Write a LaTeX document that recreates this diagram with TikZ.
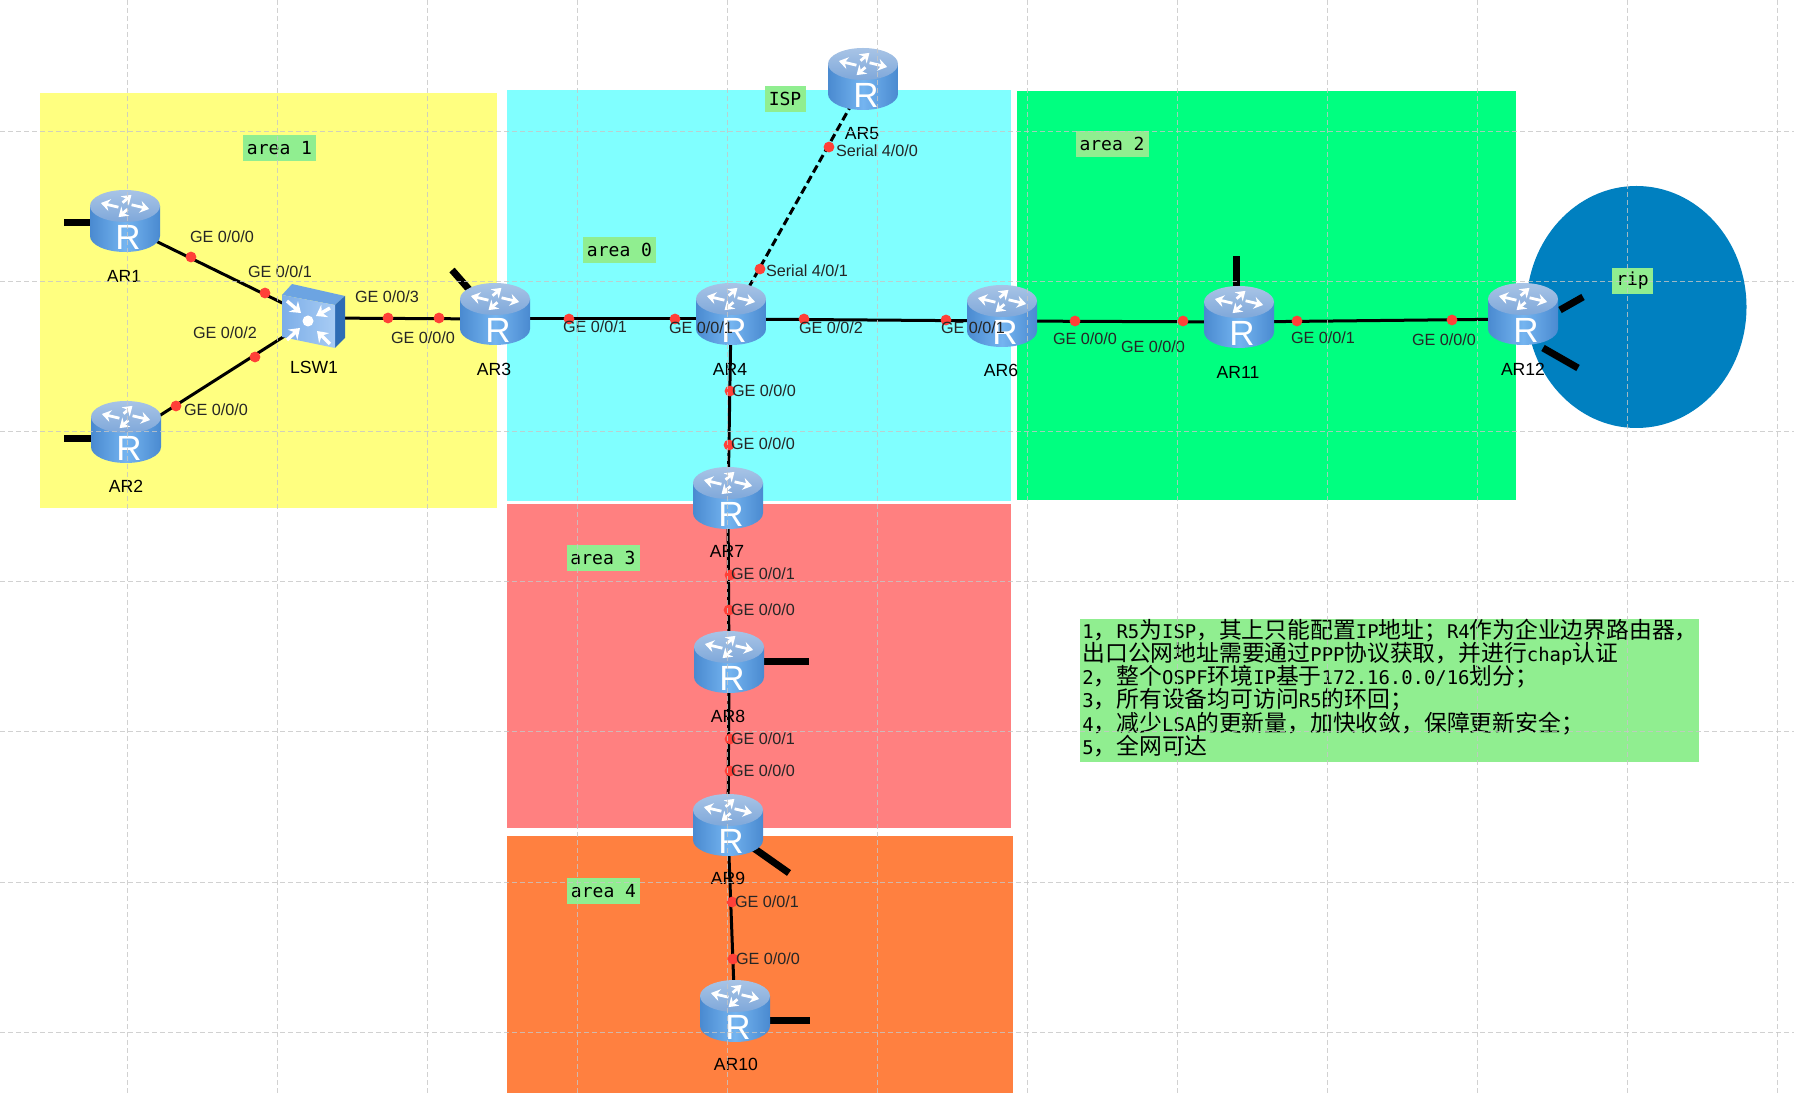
\documentclass[tikz,border=0pt]{standalone}
\usepackage{fontspec}
\setmainfont{Liberation Sans}
\newfontfamily\cjkfont{Noto Sans CJK SC}
\newfontfamily\latfont{DejaVu Sans Mono}
\usetikzlibrary{positioning, calc, arrows.meta, shapes.geometric}
\definecolor{areayellow}{HTML}{FFFF80}
\definecolor{areacyan}{HTML}{80FFFF}
\definecolor{areagreen}{HTML}{00FF80}
\definecolor{areared}{HTML}{FF8080}
\definecolor{areaorange}{HTML}{FF8040}
\definecolor{ripblue}{HTML}{0080C0}
\definecolor{tagfill}{HTML}{90EE90}
\definecolor{portred}{HTML}{FF4038}
\definecolor{bodydark}{HTML}{4A8AD0}
\definecolor{bodylight}{HTML}{74B4F0}
\definecolor{topdark}{HTML}{7FA8DA}
\definecolor{toplight}{HTML}{A8C4E6}
\definecolor{swfront}{HTML}{A8CCF4}
\definecolor{swedge}{HTML}{7CAEE8}
\definecolor{swtop}{HTML}{6CA4E2}
\definecolor{swside}{HTML}{2E6CB4}
\newcommand{\lat}[1]{{\latfont\fontsize{9.45}{11.6}\selectfont #1}}
\setlength{\lineskiplimit}{-20pt}
\begin{document}
\begin{tikzpicture}[x=0.5pt, y=-0.5pt,
    devspot/.style={inner sep=0pt, minimum width=35pt, minimum height=32pt},
    devlabel/.style={inner sep=0pt, font=\fontsize{8.8}{10}\selectfont},
    portlabel/.style={inner sep=0pt, font=\fontsize{8.1}{10}\selectfont, text=black!85},
    portdot/.style={circle, fill=portred, inner sep=0pt, minimum size=5.4pt},
    areatag/.style={fill=tagfill, inner sep=0pt, minimum width=36.5pt, minimum height=13pt, font=\latfont\fontsize{9}{10}\selectfont},
    shorttag/.style={areatag, minimum width=20.5pt},
    notebox/.style={fill=tagfill, anchor=north west, inner sep=0pt, minimum width=309.5pt, minimum height=71.5pt},
    notetext/.style={anchor=west, inner sep=0pt, align=left, font=\cjkfont\fontsize{11.4}{11.6}\selectfont},
    wire/.style={line width=1.5pt, black},
    serialwire/.style={line width=1.5pt, black, dash pattern=on 4pt off 2pt},
    stub/.style={line width=3.5pt, black},
    gridline/.style={gray!45, line width=0.5pt, dash pattern=on 2.5pt off 1.5pt, opacity=0.8},
    routerpic/.pic={
        \path[left color=bodydark, right color=bodydark, middle color=bodylight] (-35,-15) -- (-35,15) arc[start angle=180, end angle=0, x radius=35, y radius=16] -- (35,-15) -- cycle;
        \path[top color=toplight, bottom color=topdark] (0,-15) ellipse[x radius=35, y radius=16];
        \foreach \ang in {15,105,195,285} {
            \draw[white, line width=1.4pt, -{Stealth[length=4.5pt, width=6pt]}] ({7*cos(\ang-35)},{-15+3.5*sin(\ang-35)}) -- ({25*cos(\ang)},{-15+11.5*sin(\ang)});
        }
        \node[white, inner sep=0pt, font=\fontsize{17.5}{17.5}\selectfont] at (3,16) {R};
    },
    switchpic/.pic={
        \path[fill=swtop] (-31,-21) -- (-21,-32) -- (32,-20) -- (22,-11) -- cycle;
        \path[fill=swside] (22,-11) -- (32,-20) -- (32,22) -- (22,32) -- cycle;
        \path[left color=swedge, right color=swfront] (-31,-21) -- (22,-11) -- (22,32) -- (-31,21) -- cycle;
        \fill[white] (-5,5) circle[radius=5.5];
        \foreach \ax/\ay/\bx/\by in {-26/-15/-12/-3, 17/-8/3/0, -26/24/-13/12, 17/28/4/15} {
            \draw[white, line width=1.7pt, -{Stealth[length=5pt, width=7pt]}] (\ax,\ay) -- (\bx,\by);
        }
    }]
    \useasboundingbox (0,0) rectangle (1794,1095);
    \fill[white] (0,0) rectangle (1794,1095);

    % Draw area backgrounds
    \fill[areayellow] (40,93) rectangle (497,508);
    \fill[areacyan] (507,90) rectangle (1011,501);
    \fill[areagreen] (1017,91) rectangle (1516,500);
    \fill[areared] (507,504) rectangle (1011,828);
    \fill[areaorange] (507,836) rectangle (1013,1093);
    \fill[ripblue] (1636.5,307) ellipse[x radius=110, y radius=121];

    % Place devices, node centres sit at wire height
    \foreach \dev/\px/\py in {ar1/125/226, ar2/126/437, ar3/495/319, ar4/731/319, ar5/863/84, ar6/1002/321, ar7/728/503, ar8/729/667, ar9/728/830, ar10/735/1016, ar11/1239/322, ar12/1523/319} {
        \node[devspot] (\dev) at (\px,\py) {};
    }
    \node[devspot] (lsw1) at (313,318) {};

    % Free ends of the short stubs
    \coordinate (endar1) at (64,223);
    \coordinate (endar2) at (64,439);
    \coordinate (endar3) at (452,270);
    \coordinate (endar8) at (809,662);
    \coordinate (endar9) at (789,873);
    \coordinate (endar10) at (810,1020);
    \coordinate (endar11) at (1236,256);
    \coordinate (endupper) at (1583,297);
    \coordinate (endlower) at (1578,368);

    % Draw connectors
    \foreach \from/\to in {ar1/lsw1, ar2/lsw1, lsw1/ar3, ar3/ar4, ar4/ar6, ar6/ar11, ar11/ar12, ar4/ar7, ar7/ar8, ar8/ar9, ar9/ar10} {
        \draw[wire] (\from.center) -- (\to.center);
    }
    \draw[serialwire] (ar4.center) -- (ar5.center);

    % Draw stubs
    \foreach \dev/\stubend in {ar1/endar1, ar2/endar2, ar8/endar8, ar10/endar10} {
        \draw[stub] (\stubend -| \dev.center) -- (\stubend);
    }
    \draw[stub] (ar3.center) -- (endar3);
    \draw[stub] (ar9.center) -- (endar9);
    \draw[stub] (endar11 |- ar11.center) -- (endar11);
    \draw[stub] ($(ar12.center)+(37,-9)$) -- (endupper);
    \draw[stub] ($(ar12.center)+(20,29)$) -- (endlower);

    % Draw device icons over the wires
    \foreach \dev in {ar1,ar2,ar3,ar4,ar5,ar6,ar7,ar8,ar9,ar10,ar11,ar12} {
        \pic at ($(\dev.center)+(0,-5)$) {routerpic};
    }
    \pic at ($(lsw1.center)+(0,-2)$) {switchpic};

    % Add device labels
    \foreach \dev/\txt/\px/\py in {ar1/AR1/124/276, ar2/AR2/126/486, lsw1/LSW1/314/367, ar3/AR3/494/369, ar4/AR4/730/369, ar5/AR5/862/134, ar6/AR6/1001/370, ar7/AR7/727/551, ar8/AR8/728/716, ar9/AR9/728/878, ar10/AR10/736/1064, ar11/AR11/1238/372, ar12/AR12/1523/369} {
        \node[devlabel] (lab\dev) at (\px,\py) {\txt};
    }

    % Add port dots
    \foreach \px/\py [count=\i] in {191/257, 265/293, 255/357, 176/406, 388/318, 439/318, 569/319, 675/319, 804/319, 946/320, 1075/321, 1183/321, 1297/321, 1452/320, 829/147, 760/269, 730/391, 729/445, 730/575, 729/610, 730/739, 730/771, 732/902, 733/959} {
        \node[portdot] (dot\i) at (\px,\py) {};
    }

    % Add port labels
    \foreach \portnum/\px/\py [count=\i] in {0/222/237, 1/280/272, 2/225/333, 0/216/410, 3/387/297, 0/423/338, 1/595/327, 1/701/328, 2/831/328, 1/973/328, 0/1085/339, 0/1153/347, 1/1323/338, 0/1444/340, 0/764/391, 0/763/444, 1/763/574, 0/763/610, 1/763/739, 0/763/771, 1/767/902, 0/768/959} {
        \node[portlabel] (port\i) at (\px,\py) {GE 0/0/\portnum};
    }
    \node[portlabel] (serial0) at (877,151) {Serial 4/0/0};
    \node[portlabel] (serial1) at (807,271) {Serial 4/0/1};

    % Add area tags
    \node[areatag] (tag1) at (279.5,148.5) {area 1};
    \node[areatag] (tag0) at (619.5,250) {area 0};
    \node[areatag] (tag2) at (1112,144) {area 2};
    \node[areatag] (tag3) at (603,558) {area 3};
    \node[areatag] (tag4) at (603.5,891) {area 4};
    \node[shorttag] (tagisp) at (785,99) {ISP};
    \node[shorttag] (tagrip) at (1632.5,281) {rip};

    % Add requirements
    \node[notebox] (notebox) at (1080,619) {};
    \node[notetext] (notes) at ($(notebox.west)+(2,-3)$) {%
        \lat{1}，\lat{R5}为\lat{ISP}，其上只能配置\lat{IP}地址；\lat{R4}作为企业边界路由器，\\
        出口公网地址需要通过\lat{PPP}协议获取，并进行\lat{chap}认证\\
        \lat{2}，整个\lat{OSPF}环境\lat{IP}基于\lat{172.16.0.0/16}划分；\\
        \lat{3}，所有设备均可访问\lat{R5}的环回；\\
        \lat{4}，减少\lat{LSA}的更新量，加快收敛，保障更新安全；\\
        \lat{5}，全网可达};

    % Draw page grid on top
    \foreach \gx in {127,277,...,1777} {
        \draw[gridline] (\gx,0) -- (\gx,1095);
    }
    \foreach \gy in {132,282,...,1032} {
        \draw[gridline] (0,\gy) -- (1794,\gy);
    }
\end{tikzpicture}
\end{document}
